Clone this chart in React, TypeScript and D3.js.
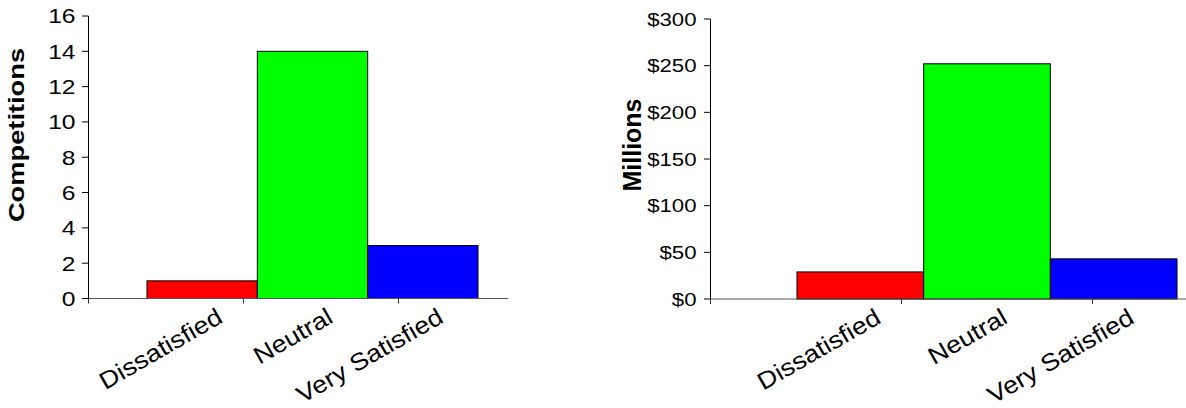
import React from "react";
import * as d3 from "d3";

// Satisfaction categories and the two measures plotted against them
const categories = ["Dissatisfied", "Neutral", "Very Satisfied"];
const competitions = [1, 14, 3];
const millions = [29, 252, 43];
const barColors = ["#ff0000", "#00ff00", "#0000ff"];
const competitionTicks = [0, 2, 4, 6, 8, 10, 12, 14, 16];
const millionTicks = [0, 50, 100, 150, 200, 250, 300];

const FONT = "'Liberation Sans', Arial, Helvetica, sans-serif";
// the typeface is set a little wide along its baseline
const STRETCH = 1.2;
const LABEL_STRETCH = 1.12;

type PanelProps = {
  values: number[];
  ticks: number[];
  format: (v: number) => string;
  title: string;
  axisX: number;
  yTop: number;
  yBottom: number;
  barStart: number;
  barEnd: number;
  axisEnd: number;
  tickStep: number;
  tickFont: number;
  labelGap: number;
  titleX: number;
  titleY: number;
  titleFont: number;
  titleStretch: number;
};

function Panel(p: PanelProps) {
  const y = d3
    .scaleLinear()
    .domain([0, d3.max(p.ticks) as number])
    .range([p.yBottom, p.yTop]);
  const x = d3
    .scaleBand<string>()
    .domain(categories)
    .range([p.barStart, p.barEnd])
    .padding(0);
  const xTick = d3
    .scaleLinear()
    .domain([0, 1])
    .range([p.axisX, p.axisX + p.tickStep]);

  return (
    <g>
      {/* bars */}
      {categories.map((c, i) => (
        <rect
          key={c}
          x={x(c)}
          y={y(p.values[i])}
          width={x.bandwidth()}
          height={y(0) - y(p.values[i])}
          fill={barColors[i]}
          stroke="#000"
          strokeWidth={1}
        />
      ))}
      {/* x axis */}
      <line x1={p.axisX} x2={p.axisEnd} y1={y(0)} y2={y(0)} stroke="#555" strokeWidth={1} />
      {[0, 1, 2].map((k) => (
        <line
          key={k}
          x1={xTick(k)}
          x2={xTick(k)}
          y1={y(0)}
          y2={y(0) + 5}
          stroke="#333"
          strokeWidth={1}
        />
      ))}
      {/* y axis */}
      <line x1={p.axisX} x2={p.axisX} y1={y(0)} y2={y(p.ticks[p.ticks.length - 1])} stroke="#000" strokeWidth={1} />
      {p.ticks.map((t) => (
        <g key={t}>
          <line x1={p.axisX - 6.5} x2={p.axisX} y1={y(t)} y2={y(t)} stroke="#000" strokeWidth={1} />
          <text
            transform={`translate(${p.axisX - p.labelGap},${y(t) + p.tickFont * 0.36}) scale(${STRETCH},1)`}
            textAnchor="end"
            fontFamily={FONT}
            fontSize={p.tickFont}
            fill="#000"
          >
            {p.format(t)}
          </text>
        </g>
      ))}
      {/* category labels */}
      {categories.map((c) => (
        <text
          key={c}
          transform={`translate(${(x(c) as number) + x.bandwidth() / 2 + 22},${p.yBottom + 23}) rotate(-30) scale(${LABEL_STRETCH},1)`}
          textAnchor="end"
          fontFamily={FONT}
          fontSize={24}
          fill="#000"
        >
          {c}
        </text>
      ))}
      {/* axis title */}
      <text
        transform={`translate(${p.titleX},${p.titleY}) rotate(-90) scale(${p.titleStretch},1)`}
        textAnchor="middle"
        fontFamily={FONT}
        fontWeight="bold"
        fontSize={p.titleFont}
        fill="#000"
      >
        {p.title}
      </text>
    </g>
  );
}

export default function App() {
  return (
    <svg
      width={1186}
      height={408}
      viewBox="0 0 1186 408"
      style={{ position: "absolute", left: 0, top: 0, background: "#fff" }}
    >
      <rect width={1186} height={408} fill="#fff" />
      <Panel
        values={competitions}
        ticks={competitionTicks}
        format={(v) => String(v)}
        title="Competitions"
        axisX={88.5}
        yTop={16}
        yBottom={298.5}
        barStart={147}
        barEnd={478}
        axisEnd={508}
        tickStep={155}
        tickFont={20.5}
        labelGap={13}
        titleX={23.5}
        titleY={135}
        titleFont={22}
        titleStretch={1.24}
      />
      <Panel
        values={millions}
        ticks={millionTicks}
        format={(v) => `$${v}`}
        title="Millions"
        axisX={710.5}
        yTop={19}
        yBottom={299}
        barStart={797}
        barEnd={1177}
        axisEnd={1186}
        tickStep={191}
        tickFont={18.5}
        labelGap={14}
        titleX={641}
        titleY={145}
        titleFont={25}
        titleStretch={1}
      />
    </svg>
  );
}
